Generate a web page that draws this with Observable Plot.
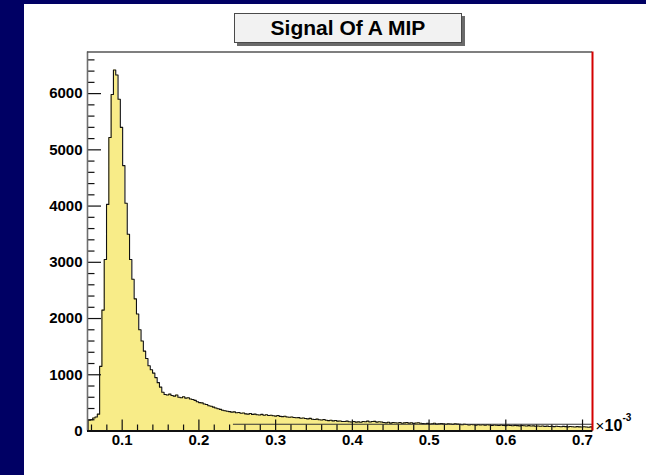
<!DOCTYPE html>
<html>
<head>
<meta charset="utf-8">
<script src="https://cdn.jsdelivr.net/npm/d3@7"></script>
<script src="https://cdn.jsdelivr.net/npm/@observablehq/plot@0.6"></script>
<style>
  html, body { margin: 0; padding: 0; background: #000064; }
  #wrap { position: relative; width: 646px; height: 475px; background: #000064; overflow: hidden; }
  #panel { position: absolute; left: 24px; top: 4px; width: 622px; height: 471px; background: #ffffff; }
  #chart { position: absolute; left: 0; top: 0; }
  #title { position: absolute; left: 234px; top: 13px; width: 228px; height: 30px; box-sizing: border-box;
           background: #f2f2f2; border: 1px solid #4a4a4a; box-shadow: 3px 3px 0 #6a6a6a;
           font-family: "Liberation Sans", Arial, sans-serif; font-weight: bold; font-size: 21px;
           line-height: 28px; text-align: center; color: #000; }
</style>
</head>
<body>
<div id="wrap">
  <div id="panel"></div>
  <div id="chart"></div>
  <div id="title">Signal Of A MIP</div>
</div>
<script>
// ---- data (x in units of 10^-3) ----
const title = "Signal Of A MIP";
const binStart = 0.0556;
const binWidth = 0.003;
const counts = [
  190, 200, 230, 250, 300,
  1150, 2150, 3050, 4030, 5220, 5985, 6420, 6330, 5900, 5400, 4720, 4050, 3500,
  3050, 2700, 2350, 2080, 1800, 1600, 1420, 1290, 1160, 1090, 1030, 950, 860, 780, 690,
  650, 640, 655, 630, 620, 640, 600, 590, 610, 585, 590, 570, 560, 545, 520, 505, 500,
  480, 470, 450, 440, 425, 410, 395, 385, 370, 360, 350, 345, 335, 340, 325, 330, 315, 320, 305, 300,
  310, 295, 300, 290, 285, 295, 280, 290, 275, 280, 270, 265, 275, 260, 255, 262, 250, 245, 250, 240,
  235, 238, 228, 232, 222, 215, 225, 210, 205, 212, 200, 195, 205, 190, 185, 192, 180, 186, 175, 178,
  170, 168, 175, 165, 160, 170, 158, 162, 155,
  170, 165, 175, 160, 168, 172, 158, 165, 160,
  150, 145, 155, 140, 150, 148, 142, 152, 138, 145, 150, 140, 146, 135, 142, 148, 138,
  132, 128, 135, 125, 130, 138, 122, 128, 133, 126, 120, 130, 125, 118, 128, 122,
  118, 112, 120, 115, 108, 116, 110, 105, 114, 108, 112, 104, 110, 106, 100, 108, 102, 98, 106, 100,
  96, 104, 98, 94, 100, 96, 92, 98, 94, 90, 96,
  88, 92, 85, 90, 84, 88, 82, 86, 80, 85, 78, 84, 80, 76, 82, 78, 74, 80, 76, 72, 78, 74, 70, 76, 72, 68, 74
];
const xDomain = [0.0548, 0.7130];
const yDomain = [0, 6740];
const xMajorTicks = [0.1, 0.2, 0.3, 0.4, 0.5, 0.6, 0.7];
const xMinorTicks = [0.06, 0.08, 0.12, 0.14, 0.16, 0.18, 0.22, 0.24, 0.26, 0.28, 0.32, 0.34, 0.36, 0.38,
                     0.42, 0.44, 0.46, 0.48, 0.52, 0.54, 0.56, 0.58, 0.62, 0.64, 0.66, 0.68];
const yMajorTicks = [0, 1000, 2000, 3000, 4000, 5000, 6000];
const yMinorTicks = [200, 400, 600, 800, 1200, 1400, 1600, 1800, 2200, 2400, 2600, 2800,
                     3200, 3400, 3600, 3800, 4200, 4400, 4600, 4800, 5200, 5400, 5600, 5800,
                     6200, 6400, 6600];
const baselineLevel = 120;       // stray horizontal line seen near the baseline
const baselineFrom = 0.245;
const exponentTimes = "×";
const exponentBase = "10";
const exponentPow = "-3";

// ---- build step series ----
const steps = counts.map((c, i) => ({x: binStart + i * binWidth, y: c}));
steps.push({x: binStart + counts.length * binWidth, y: counts[counts.length - 1]});
const outline = [{x: binStart, y: 0}, ...steps, {x: binStart + counts.length * binWidth, y: 0}];

const W = 646, H = 475;
const mL = 87, mR = 54, mT = 51.5, mB = 44.5;
const frameW = W - mL - mR, frameH = H - mT - mB;

const chart = Plot.plot({
  width: W,
  height: H,
  marginLeft: mL,
  marginRight: mR,
  marginTop: mT,
  marginBottom: mB,
  style: {background: "transparent", fontFamily: "'Liberation Sans', Arial, sans-serif", fontWeight: "bold", fontSize: "15px", color: "#000"},
  x: {domain: xDomain, label: null},
  y: {domain: yDomain, label: null},
  marks: [
    Plot.areaY(steps, {x: "x", y: "y", curve: "step-after", fill: "#f8ec88"}),
    Plot.lineY(outline, {x: "x", y: "y", curve: "step-after", stroke: "#111", strokeWidth: 1.1}),
    Plot.ruleY([baselineLevel], {x1: baselineFrom, x2: xDomain[1], stroke: "#333", strokeWidth: 1.2}),
    // ticks (inside)
    Plot.tickX(xMajorTicks, {x: d => d, insetTop: frameH - 11, stroke: "#111", strokeWidth: 1.2}),
    Plot.tickX(xMinorTicks, {x: d => d, insetTop: frameH - 6, stroke: "#111", strokeWidth: 1.2}),
    Plot.tickY(yMajorTicks, {y: d => d, insetRight: frameW - 14, stroke: "#111", strokeWidth: 1.2}),
    Plot.tickY(yMinorTicks, {y: d => d, insetRight: frameW - 7.5, stroke: "#111", strokeWidth: 1.2}),
    // frame
    Plot.ruleX([xDomain[0]], {stroke: "#6e6e6e", strokeWidth: 1.6}),
    Plot.ruleY([yDomain[1]], {stroke: "#555", strokeWidth: 1.6}),
    Plot.ruleX([xDomain[1]], {stroke: "#d40000", strokeWidth: 2}),
    Plot.ruleY([0], {stroke: "#111", strokeWidth: 2}),
    // axes labels
    Plot.axisX(xMajorTicks, {tickSize: 0, tickPadding: 3, label: null, tickFormat: d => d.toFixed(1), fontSize: 15, fontWeight: "bold"}),
    Plot.axisY(yMajorTicks, {tickSize: 0, tickPadding: 5, label: null, tickFormat: d => String(d), fontSize: 15, fontWeight: "bold"}),
    // exponent label
    Plot.text([exponentTimes], {x: () => xDomain[1], y: () => 0, text: d => d, textAnchor: "start", dx: 3, dy: -5, fontSize: 15, fontWeight: "normal"}),
    Plot.text([exponentBase], {x: () => xDomain[1], y: () => 0, text: d => d, textAnchor: "start", dx: 12, dy: -5, fontSize: 16, fontWeight: "bold"}),
    Plot.text([exponentPow], {x: () => xDomain[1], y: () => 0, text: d => d, textAnchor: "start", dx: 30, dy: -13, fontSize: 10, fontWeight: "bold"})
  ]
});
document.getElementById("chart").appendChild(chart);
</script>
</body>
</html>
